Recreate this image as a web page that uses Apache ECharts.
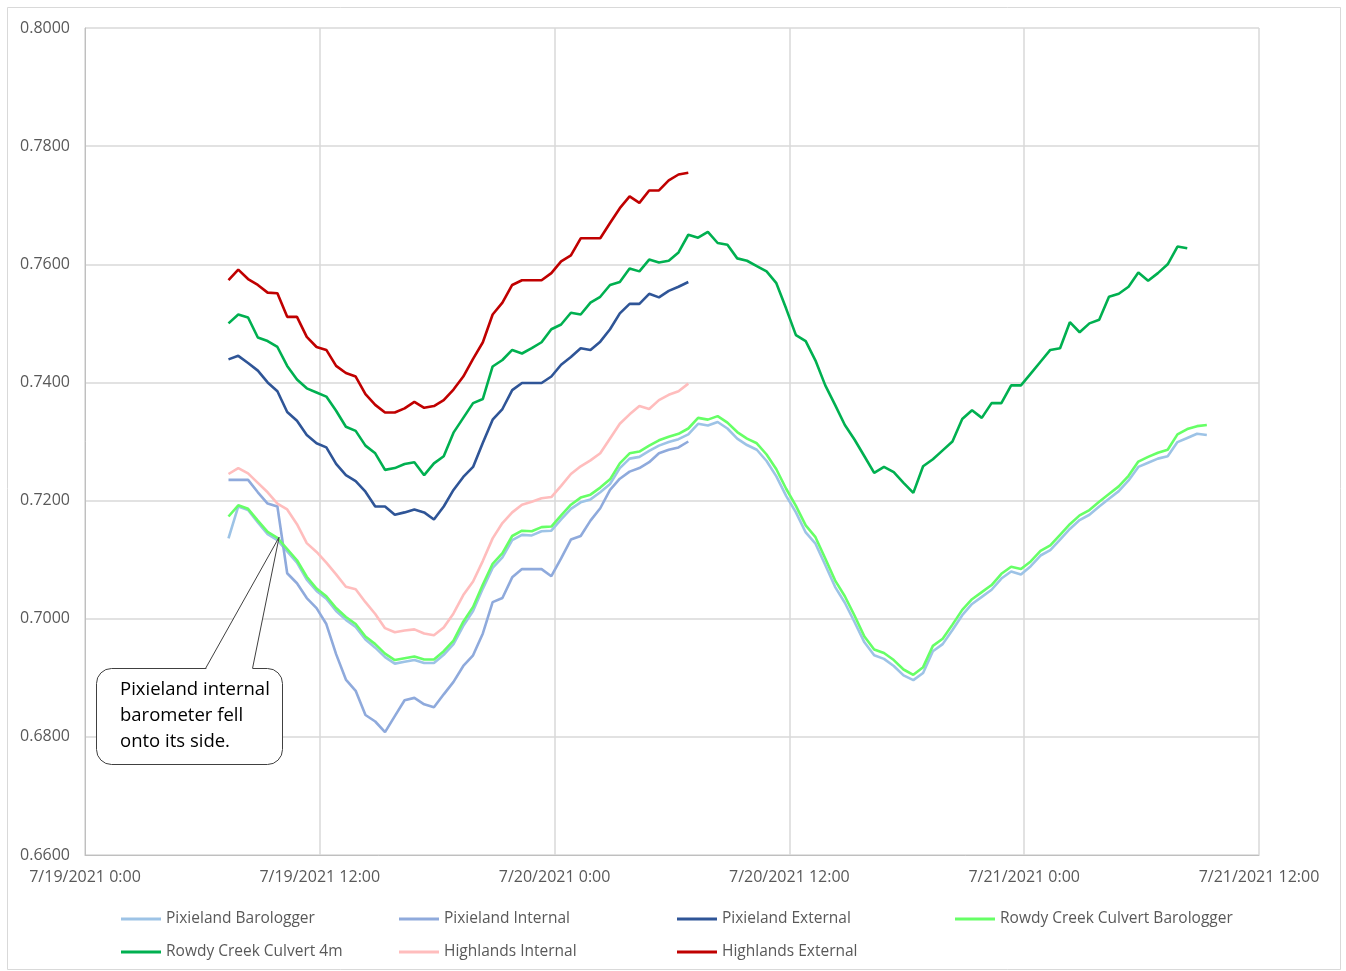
<!DOCTYPE html>
<html>
<head>
<meta charset="utf-8">
<script src="https://cdn.jsdelivr.net/npm/echarts@6/dist/echarts.min.js"></script>
<style>
html,body{margin:0;padding:0;background:#fff;}
#c{width:1346px;height:971px;}
</style>
</head>
<body>
<div id="c"></div>
<script>
// time axis in hours since 7/19/2021 0:00
const startHour = 7 + 20 / 60;
const stepHours = 0.5;
const xTicks = [0, 12, 24, 36, 48, 60];
const yTicks = [0.66, 0.68, 0.70, 0.72, 0.74, 0.76, 0.78, 0.80];

const seriesNames = [
  'Pixieland Barologger', 'Pixieland Internal', 'Pixieland External',
  'Rowdy Creek Culvert Barologger', 'Rowdy Creek Culvert 4m',
  'Highlands Internal', 'Highlands External'
];

const pixielandBarologger = [
  0.7136,0.7190,0.7184,0.7163,0.7143,0.7133,0.7114,0.7095,0.7066,0.7047,
  0.7034,0.7013,0.6998,0.6986,0.6965,0.6951,0.6935,0.6924,0.6927,0.6930,
  0.6925,0.6925,0.6939,0.6957,0.6988,0.7013,0.7051,0.7086,0.7104,0.7133,
  0.7142,0.7141,0.7148,0.7149,0.7168,0.7186,0.7197,0.7202,0.7214,0.7228,
  0.7255,0.7271,0.7274,0.7284,0.7293,0.7299,0.7304,0.7312,0.7330,0.7327,
  0.7333,0.7322,0.7305,0.7294,0.7286,0.7267,0.7241,0.7208,0.7180,0.7146,
  0.7127,0.7091,0.7054,0.7027,0.6994,0.6960,0.6938,0.6932,0.6920,0.6904,
  0.6896,0.6908,0.6945,0.6957,0.6981,0.7006,0.7025,0.7037,0.7049,0.7068,
  0.7080,0.7075,0.7089,0.7107,0.7116,0.7134,0.7152,0.7167,0.7176,0.7190,
  0.7203,0.7216,0.7234,0.7257,0.7264,0.7271,0.7275,0.7299,0.7306,0.7313,
  0.7311
];

const pixielandInternal = [
  0.7235,0.7235,0.7235,0.7214,0.7195,0.7190,0.7077,0.7060,0.7035,0.7018,
  0.6991,0.6940,0.6897,0.6878,0.6837,0.6826,0.6808,0.6835,0.6862,0.6866,
  0.6855,0.6850,0.6872,0.6893,0.6920,0.6938,0.6975,0.7028,0.7035,0.7070,
  0.7084,0.7084,0.7084,0.7072,0.7102,0.7134,0.7140,0.7166,0.7187,0.7218,
  0.7237,0.7249,0.7255,0.7265,0.7280,0.7286,0.7290,0.7300
];

const pixielandExternal = [
  0.7439,0.7445,0.7433,0.7420,0.7400,0.7385,0.7350,0.7335,0.7311,0.7297,
  0.7290,0.7262,0.7243,0.7233,0.7215,0.7190,0.7190,0.7176,0.7180,0.7185,
  0.7180,0.7168,0.7190,0.7218,0.7240,0.7257,0.7298,0.7337,0.7355,0.7387,
  0.7399,0.7399,0.7399,0.7410,0.7430,0.7443,0.7458,0.7455,0.7469,0.7490,
  0.7517,0.7533,0.7533,0.7550,0.7544,0.7555,0.7562,0.7570
];

const rowdyBarologger = [
  0.7173,0.7192,0.7186,0.7166,0.7147,0.7137,0.7118,0.7099,0.7071,0.7051,
  0.7038,0.7018,0.7003,0.6991,0.6970,0.6957,0.6941,0.6930,0.6933,0.6936,
  0.6931,0.6931,0.6945,0.6963,0.6995,0.7020,0.7058,0.7093,0.7111,0.7140,
  0.7149,0.7148,0.7155,0.7156,0.7175,0.7193,0.7205,0.7210,0.7222,0.7236,
  0.7263,0.7280,0.7283,0.7293,0.7302,0.7308,0.7313,0.7322,0.7340,0.7337,
  0.7343,0.7332,0.7316,0.7305,0.7297,0.7278,0.7253,0.7220,0.7191,0.7158,
  0.7138,0.7102,0.7065,0.7038,0.7005,0.6970,0.6948,0.6942,0.6930,0.6914,
  0.6905,0.6918,0.6954,0.6966,0.6990,0.7015,0.7033,0.7045,0.7057,0.7076,
  0.7088,0.7084,0.7097,0.7115,0.7124,0.7142,0.7160,0.7175,0.7184,0.7198,
  0.7211,0.7224,0.7242,0.7266,0.7274,0.7281,0.7286,0.7312,0.7321,0.7326,
  0.7328
];

const rowdy4m = [
  0.7500,0.7515,0.7510,0.7476,0.7470,0.7460,0.7428,0.7405,0.7390,0.7383,
  0.7376,0.7352,0.7325,0.7318,0.7293,0.7280,0.7252,0.7255,0.7262,0.7265,
  0.7243,0.7263,0.7275,0.7315,0.7340,0.7365,0.7372,0.7427,0.7438,0.7455,
  0.7449,0.7458,0.7468,0.7490,0.7498,0.7518,0.7515,0.7535,0.7545,0.7565,
  0.7570,0.7593,0.7588,0.7608,0.7603,0.7606,0.7620,0.7650,0.7645,0.7655,
  0.7636,0.7633,0.7610,0.7606,0.7597,0.7588,0.7568,0.7525,0.7480,0.7470,
  0.7437,0.7395,0.7362,0.7328,0.7303,0.7275,0.7247,0.7257,0.7248,0.7230,
  0.7213,0.7258,0.7270,0.7285,0.7300,0.7338,0.7353,0.7340,0.7365,0.7365,
  0.7395,0.7395,0.7415,0.7435,0.7455,0.7458,0.7502,0.7485,0.7500,0.7506,
  0.7545,0.7550,0.7562,0.7586,0.7572,0.7585,0.7600,0.7630,0.7627
];

const highlandsInternal = [
  0.7245,0.7255,0.7246,0.7230,0.7214,0.7195,0.7185,0.7160,0.7128,0.7113,
  0.7095,0.7075,0.7054,0.7050,0.7028,0.7008,0.6984,0.6977,0.6980,0.6982,
  0.6975,0.6972,0.6985,0.7009,0.7040,0.7063,0.7098,0.7136,0.7162,0.7180,
  0.7193,0.7198,0.7204,0.7206,0.7225,0.7245,0.7258,0.7268,0.7280,0.7305,
  0.7330,0.7346,0.7360,0.7355,0.7370,0.7379,0.7385,0.7398
];

const highlandsExternal = [
  0.7573,0.7591,0.7575,0.7565,0.7552,0.7551,0.7511,0.7511,0.7477,0.7460,
  0.7455,0.7428,0.7416,0.7410,0.7380,0.7362,0.7349,0.7349,0.7356,0.7367,
  0.7357,0.7360,0.7370,0.7388,0.7410,0.7440,0.7468,0.7515,0.7535,0.7565,
  0.7573,0.7573,0.7573,0.7585,0.7605,0.7615,0.7644,0.7644,0.7644,0.7670,
  0.7695,0.7715,0.7704,0.7725,0.7725,0.7742,0.7752,0.7755
];

const seriesColors = ['#9DC3E6','#8FAADC','#2F5597','#66FF66','#00B050','#FFBDBD','#C00000'];
const seriesValues = [pixielandBarologger, pixielandInternal, pixielandExternal,
  rowdyBarologger, rowdy4m, highlandsInternal, highlandsExternal];

// callout annotation
const calloutText = 'Pixieland internal\nbarometer fell\nonto its side.';
const calloutPoint = [9.92, 0.7138];

function hourLabel(h) {
  const day = 19 + Math.floor(h / 24);
  const hr = h % 24;
  return '7/' + day + '/2021 ' + hr + ':00';
}

const font = '"Open Sans", "Noto Sans", sans-serif';
const txtColor = '#595959';

const legendCols = [121, 399, 677, 955];
const legendRows = [911, 944];
const legends = seriesNames.map((n, i) => ({
  data: [n],
  left: legendCols[i % 4],
  top: legendRows[Math.floor(i / 4)],
  padding: 0,
  icon: 'rect',
  itemWidth: 40,
  itemHeight: 3,
  textStyle: { color: txtColor, fontSize: 15.5, fontFamily: font },
  selectedMode: false
}));

const chart = echarts.init(document.getElementById('c'), null, { renderer: 'canvas' });

const option = {
  animation: false,
  backgroundColor: '#fff',
  textStyle: { fontFamily: font },
  grid: { left: 85, right: 87, top: 28, bottom: 116, containLabel: false },
  legend: legends,
  xAxis: {
    type: 'value',
    min: xTicks[0], max: xTicks[xTicks.length - 1], interval: 12,
    axisLine: { show: true, lineStyle: { color: '#BFBFBF', width: 1 } },
    axisTick: { show: false },
    splitLine: { show: true, lineStyle: { color: '#D9D9D9', width: 1.5 } },
    axisLabel: { formatter: hourLabel, color: txtColor, fontSize: 16, fontFamily: font, margin: 14 }
  },
  yAxis: {
    type: 'value',
    min: yTicks[0], max: yTicks[yTicks.length - 1], interval: 0.02,
    axisLine: { show: true, lineStyle: { color: '#BFBFBF', width: 1 } },
    axisTick: { show: false },
    splitLine: { show: true, lineStyle: { color: '#D9D9D9', width: 1.5 } },
    axisLabel: { formatter: v => v.toFixed(4), color: txtColor, fontSize: 16, fontFamily: font, margin: 15 }
  },
  series: seriesNames.map((n, k) => ({
    name: n,
    type: 'line',
    showSymbol: false,
    symbol: 'none',
    color: seriesColors[k],
    lineStyle: { width: 2.6, color: seriesColors[k] },
    data: seriesValues[k].map((v, i) => [startHour + i * stepHours, v])
  }))
};
chart.setOption(option);

const tip = chart.convertToPixel({ gridIndex: 0 }, calloutPoint);
const box = { x: 96, y: 668, w: 186, h: 96 };
chart.setOption({
  graphic: [
    { type: 'rect', z: 100, silent: true,
      shape: { x: 7.5, y: 7.5, width: 1333, height: 962 },
      style: { fill: 'none', stroke: '#D9D9D9', lineWidth: 1 } },
    { type: 'rect', z: 100, silent: true,
      shape: { x: box.x + 0.5, y: box.y + 0.5, width: box.w, height: box.h, r: 15 },
      style: { fill: '#fff', stroke: '#404040', lineWidth: 1 } },
    { type: 'polygon', z: 101, silent: true,
      shape: { points: [[205.5, 670], tip, [252.5, 670]] },
      style: { fill: '#fff', stroke: 'none' } },
    { type: 'polyline', z: 102, silent: true,
      shape: { points: [[205.5, 668.5], tip, [252.5, 668.5]] },
      style: { fill: 'none', stroke: '#404040', lineWidth: 1 } },
    { type: 'text', z: 103, silent: true, left: 120, top: 677,
      style: { text: calloutText, fill: '#000', fontSize: 18.5, fontFamily: font, lineHeight: 26 } }
  ]
});
</script>
</body>
</html>
